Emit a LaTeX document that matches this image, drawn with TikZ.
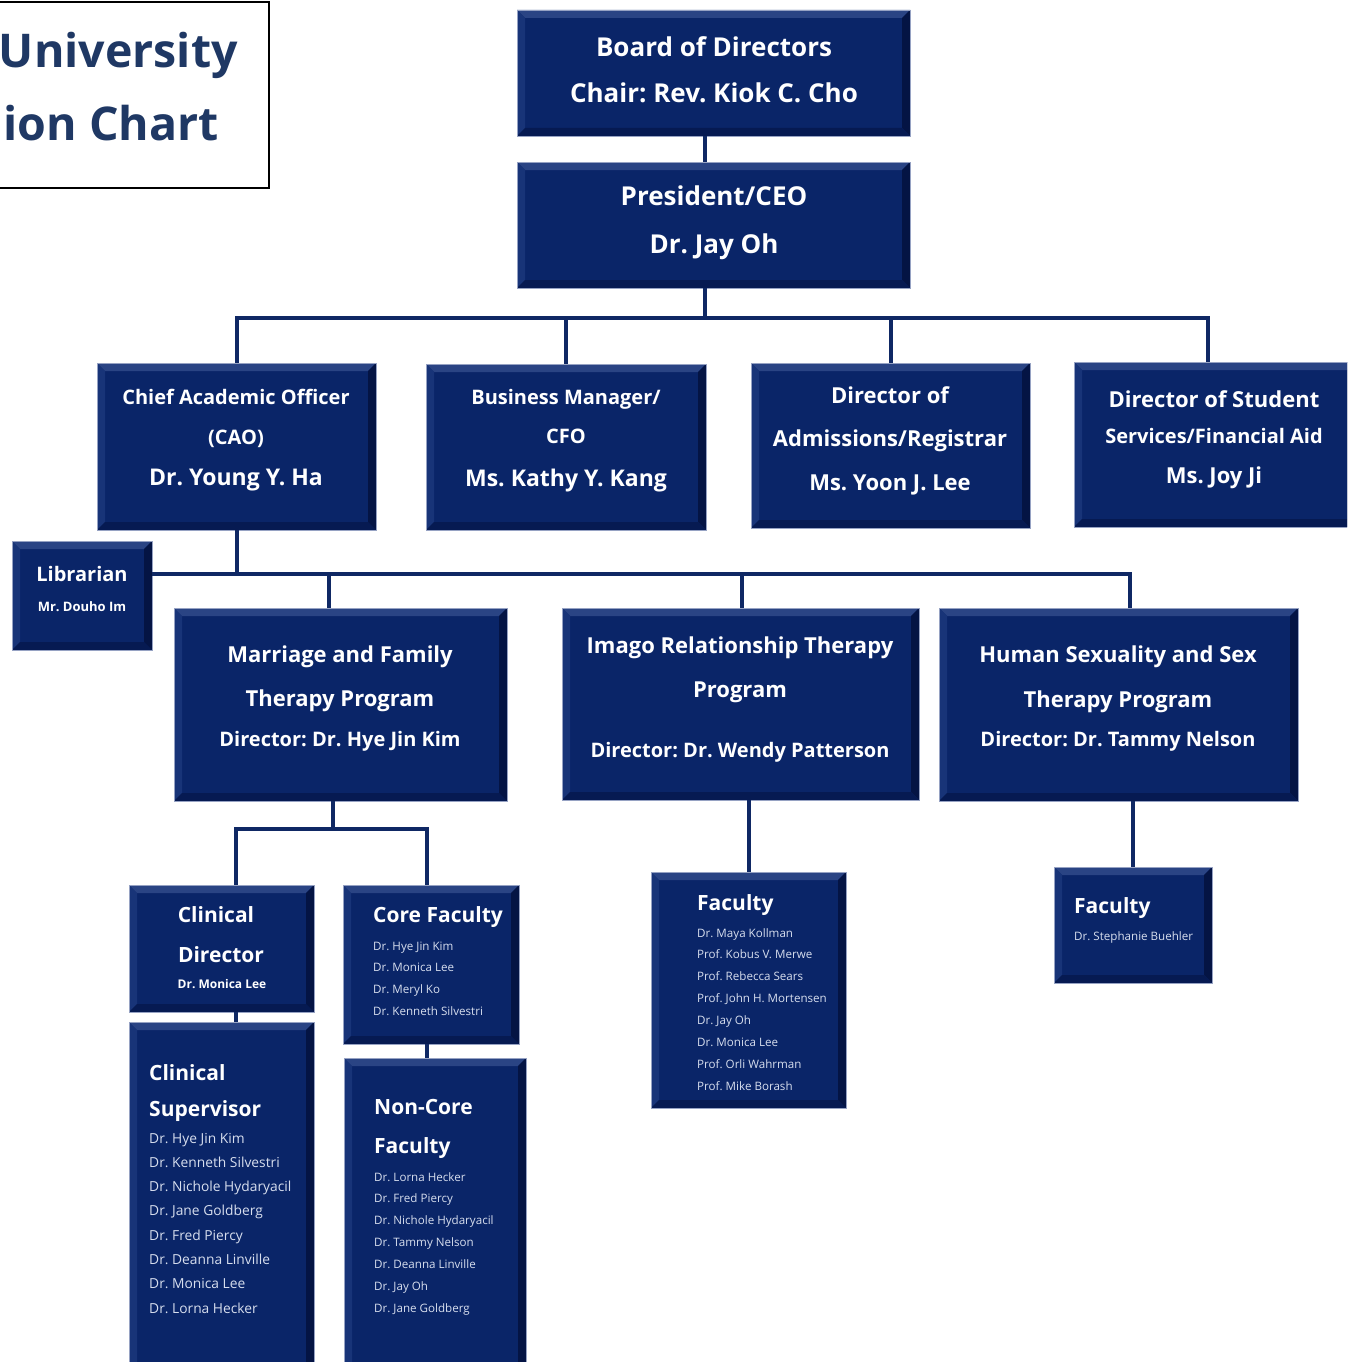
\documentclass[tikz,border=0pt]{standalone}
\usepackage{fontspec}
\setmainfont{Open Sans}
\usepackage{tikz}
\frenchspacing

\definecolor{boxnavy}{RGB}{10,37,104}
\definecolor{bevtop}{RGB}{42,68,132}
\definecolor{bevleft}{RGB}{24,52,120}
\definecolor{bevright}{RGB}{4,20,68}
\definecolor{bevbot}{RGB}{6,26,82}
\definecolor{edgeblue}{RGB}{150,162,195}
\definecolor{linenavy}{RGB}{15,40,100}
\definecolor{titleblue}{RGB}{31,56,100}
\definecolor{listwhite}{RGB}{215,222,238}

\tikzset{
  orgbox/.style={rectangle, fill=boxnavy, draw=edgeblue, line width=0.8pt, inner sep=0pt,
    path picture={
      \coordinate (nw) at (path picture bounding box.north west);
      \coordinate (ne) at (path picture bounding box.north east);
      \coordinate (sw) at (path picture bounding box.south west);
      \coordinate (se) at (path picture bounding box.south east);
      \fill[bevtop] (nw) -- (ne) -- ([shift={(-8pt,-8pt)}]ne) -- ([shift={(8pt,-8pt)}]nw) -- cycle;
      \fill[bevleft] (nw) -- (sw) -- ([shift={(8pt,8pt)}]sw) -- ([shift={(8pt,-8pt)}]nw) -- cycle;
      \fill[bevright] (ne) -- (se) -- ([shift={(-8pt,8pt)}]se) -- ([shift={(-8pt,-8pt)}]ne) -- cycle;
      \fill[bevbot] (sw) -- (se) -- ([shift={(-8pt,8pt)}]se) -- ([shift={(8pt,8pt)}]sw) -- cycle;
    }},
  conn/.style={draw=linenavy, line width=4pt},
  hd/.style={text=white, font=\bfseries\fontsize{#1}{#1}\selectfont, inner sep=0pt, anchor=base},
  hd/.default=21,
  lst/.style={text=listwhite, font=\fontsize{#1}{#1}\selectfont, inner sep=0pt, anchor=base west},
  lst/.default=11.6
}

\begin{document}
\begin{tikzpicture}[x=1pt, y=-1pt]
\clip (0,0) rectangle (1347,1362);

% title (cut off on the left)
\node (titlebox) at (129.5, 95) [draw=black, line width=1.5pt, minimum width=279pt, minimum height=186pt] {};
\node (title1) at (238, 68) [anchor=base east, inner sep=0pt, text=titleblue, font=\bfseries\fontsize{46.5}{48}\selectfont] {University};
\node (title2) at (219, 140) [anchor=base east, inner sep=0pt, text=titleblue, font=\bfseries\fontsize{46.5}{48}\selectfont] {ion Chart};

% boxes
\node (board) at (713.5, 73) [orgbox, minimum width=393pt, minimum height=126pt] {};
\node (pres) at (713.5, 225) [orgbox, minimum width=393pt, minimum height=126pt] {};
\node (cao) at (236.5, 446.5) [orgbox, minimum width=279pt, minimum height=167pt] {};
\node (biz) at (566, 447) [orgbox, minimum width=280pt, minimum height=166pt] {};
\node (adm) at (890.5, 445.5) [orgbox, minimum width=279pt, minimum height=165pt] {};
\node (stud) at (1214.5, 444.5) [orgbox, minimum width=281pt, minimum height=165pt] {};
\node (lib) at (82, 595.5) [orgbox, minimum width=140pt, minimum height=109pt] {};
\node (mft) at (340.5, 704.5) [orgbox, minimum width=333pt, minimum height=193pt] {};
\node (imago) at (740.5, 704) [orgbox, minimum width=357pt, minimum height=192pt] {};
\node (hss) at (1118.5, 704.5) [orgbox, minimum width=359pt, minimum height=193pt] {};
\node (cdir) at (221.5, 948.5) [orgbox, minimum width=185pt, minimum height=127pt] {};
\node (csup) at (221.5, 1201) [orgbox, minimum width=185pt, minimum height=358pt] {};
\node (core) at (431, 964.5) [orgbox, minimum width=176pt, minimum height=159pt] {};
\node (noncore) at (435, 1219) [orgbox, minimum width=182pt, minimum height=322pt] {};
\node (ifac) at (748.5, 990) [orgbox, minimum width=195pt, minimum height=236pt] {};
\node (hfac) at (1133, 925) [orgbox, minimum width=158pt, minimum height=116pt] {};

% board and president
\node (board1) at (714, 57) [hd=26] {Board of Directors};
\node (board2) at (714, 103) [hd=26] {Chair: Rev. Kiok C. Cho};
\node (pres1) at (714, 205) [hd=26] {President/CEO};
\node (pres2) at (714, 253) [hd=26] {Dr. Jay Oh};

% second row
\node (cao1) at (236, 404) [hd=20] {Chief Academic Officer};
\node (cao2) at (236, 444) [hd=20] {(CAO)};
\node (cao3) at (236, 485) [hd=23] {Dr. Young Y. Ha};
\node (biz1) at (566, 404) [hd=20] {Business Manager/};
\node (biz2) at (566, 443) [hd=20] {CFO};
\node (biz3) at (566, 486) [hd=23] {Ms. Kathy Y. Kang};
\node (adm1) at (890, 403) [hd=22] {Director of};
\node (adm2) at (890, 446) [hd=22] {Admissions/Registrar};
\node (adm3) at (890, 490) [hd=22] {Ms. Yoon J. Lee};
\node (stud1) at (1214, 407) [hd=22] {Director of Student};
\node (stud2) at (1214, 443) [hd=20] {Services/Financial Aid};
\node (stud3) at (1214, 483) [hd=22] {Ms. Joy Ji};

\node (lib1) at (82, 581) [hd=20] {Librarian};
\node (lib2) at (82, 611) [hd=13] {Mr. Douho Im};

% programs
\node (mft1) at (340, 662) [hd=22] {Marriage and Family};
\node (mft2) at (340, 706) [hd=22] {Therapy Program};
\node (mft3) at (340, 746) [hd=20] {Director: Dr. Hye Jin Kim};
\node (imago1) at (740, 653) [hd=22] {Imago Relationship Therapy};
\node (imago2) at (740, 697) [hd=22] {Program};
\node (imago3) at (740, 757) [hd=20] {Director: Dr. Wendy Patterson};
\node (hss1) at (1118, 662) [hd=22] {Human Sexuality and Sex};
\node (hss2) at (1118, 707) [hd=22] {Therapy Program};
\node (hss3) at (1118, 746) [hd=20] {Director: Dr. Tammy Nelson};

% MFT staff
\node (cdir1) at (216, 922) [hd] {Clinical};
\node (cdir2) at (221, 962) [hd] {Director};
\node (cdir3) at (222, 988) [hd=12] {Dr. Monica Lee};

\node (csup1) at (149, 1080) [hd, anchor=base west] {Clinical};
\node (csup2) at (149, 1116) [hd, anchor=base west] {Supervisor};
\node (csupa) at (149, 1143) [lst=13.8] {Dr. Hye Jin Kim};
\node (csupb) at (149, 1167.3) [lst=13.8] {Dr. Kenneth Silvestri};
\node (csupc) at (149, 1191.6) [lst=13.8] {Dr. Nichole Hydaryacil};
\node (csupd) at (149, 1215.9) [lst=13.8] {Dr. Jane Goldberg};
\node (csupe) at (149, 1240.2) [lst=13.8] {Dr. Fred Piercy};
\node (csupf) at (149, 1264.5) [lst=13.8] {Dr. Deanna Linville};
\node (csupg) at (149, 1288.8) [lst=13.8] {Dr. Monica Lee};
\node (csuph) at (149, 1313.1) [lst=13.8] {Dr. Lorna Hecker};

\node (core1) at (373, 922) [hd, anchor=base west] {Core Faculty};
\node (corea) at (373, 950) [lst] {Dr. Hye Jin Kim};
\node (coreb) at (373, 971.7) [lst] {Dr. Monica Lee};
\node (corec) at (373, 993.4) [lst] {Dr. Meryl Ko};
\node (cored) at (373, 1015.1) [lst] {Dr. Kenneth Silvestri};

\node (noncore1) at (374, 1114) [hd, anchor=base west] {Non-Core};
\node (noncore2) at (374, 1153) [hd, anchor=base west] {Faculty};
\node (noncorea) at (374, 1181) [lst] {Dr. Lorna Hecker};
\node (noncoreb) at (374, 1202.9) [lst] {Dr. Fred Piercy};
\node (noncorec) at (374, 1224.8) [lst] {Dr. Nichole Hydaryacil};
\node (noncored) at (374, 1246.7) [lst] {Dr. Tammy Nelson};
\node (noncoree) at (374, 1268.6) [lst] {Dr. Deanna Linville};
\node (noncoref) at (374, 1290.5) [lst] {Dr. Jay Oh};
\node (noncoreg) at (374, 1312.4) [lst] {Dr. Jane Goldberg};

% Imago faculty
\node (ifac1) at (697, 910) [hd, anchor=base west] {Faculty};
\node (ifaca) at (697, 937) [lst] {Dr. Maya Kollman};
\node (ifacb) at (697, 958.9) [lst] {Prof. Kobus V. Merwe};
\node (ifacc) at (697, 980.8) [lst] {Prof. Rebecca Sears};
\node (ifacd) at (697, 1002.7) [lst] {Prof. John H. Mortensen};
\node (iface) at (697, 1024.6) [lst] {Dr. Jay Oh};
\node (ifacf) at (697, 1046.5) [lst] {Dr. Monica Lee};
\node (ifacg) at (697, 1068.4) [lst] {Prof. Orli Wahrman};
\node (ifach) at (697, 1090.3) [lst] {Prof. Mike Borash};

% HSST faculty
\node (hfac1) at (1074, 913) [hd, anchor=base west] {Faculty};
\node (hfaca) at (1074, 940) [lst] {Dr. Stephanie Buehler};

% junctions
\coordinate (j1) at (705, 318);
\coordinate (j1e) at (1208, 318);
\coordinate (j2) at (236.5, 574);
\coordinate (j2m) at (329, 574);
\coordinate (j2i) at (742, 574);
\coordinate (j2e) at (1130, 574);
\coordinate (j3) at (333, 829);
\coordinate (j3a) at (236, 829);
\coordinate (j3b) at (427, 829);

\draw[conn] (board.south -| j1) -- (pres.north -| j1);
\draw[conn] (pres.south -| j1) -- (j1);
\draw[conn] (cao.north) |- (j1e) -- (j1e |- stud.north);
\draw[conn] (biz.north) -- (biz.north |- j1);
\draw[conn] (adm.north) -- (adm.north |- j1);

\draw[conn] (cao.south) -- (j2);
\draw[conn] (lib.east |- j2) -- (j2e) -- (j2e |- hss.north);
\draw[conn] (j2m) -- (j2m |- mft.north);
\draw[conn] (j2i) -- (j2i |- imago.north);

\draw[conn] (mft.south -| j3) -- (j3);
\draw[conn] (j3a |- cdir.north) |- (j3b) -- (j3b |- core.north);
\draw[conn] (cdir.south -| j3a) -- (csup.north -| j3a);
\draw[conn] (core.south -| j3b) -- (noncore.north -| j3b);
\draw[conn] (imago.south -| ifac.north) -- (ifac.north);
\draw[conn] (hss.south -| hfac.north) -- (hfac.north);
\end{tikzpicture}
\end{document}
